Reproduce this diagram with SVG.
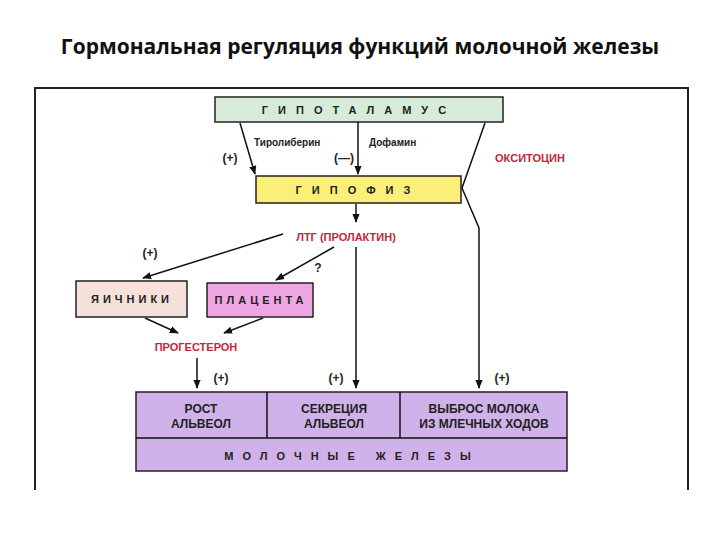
<svg xmlns="http://www.w3.org/2000/svg" width="720" height="540" viewBox="0 0 720 540">
<defs>
<marker id="ah" viewBox="0 0 10 10" refX="9" refY="5" markerWidth="6" markerHeight="6" orient="auto"><path d="M0,1 L10,5 L0,9 z" fill="#111"/></marker>
<style>
.box{stroke:#222;stroke-width:1.5}
.sp{font-family:"Liberation Sans",Arial,sans-serif;font-weight:bold;font-size:11px;fill:#222;text-anchor:middle}
.red{font-family:"Liberation Sans",Arial,sans-serif;font-weight:bold;font-size:11px;fill:#c0283a;text-anchor:middle}
.sm{font-family:"Liberation Sans",Arial,sans-serif;font-weight:bold;font-size:10px;fill:#222}
.in{font-family:"Liberation Sans",Arial,sans-serif;font-weight:bold;font-size:12px;fill:#222;text-anchor:middle}
.ln{stroke:#111;stroke-width:1.5;fill:none}
</style>
</defs>
<rect width="720" height="540" fill="#fff"/>
<text x="360" y="54" text-anchor="middle" font-family="'Open Sans','Liberation Sans',sans-serif" font-weight="bold" font-size="21" fill="#111">Гормональная регуляция функций молочной железы</text>
<path d="M35,490 V88 H688 V490" stroke="#222" stroke-width="2" fill="none"/>
<g id="hypothalamus"><rect class="box" x="215" y="97" width="288" height="25" fill="#d6ecd9"/><text class="sp" x="359" y="114" letter-spacing="10">ГИПОТАЛАМУС</text></g>
<g id="hypophysis"><rect class="box" x="256" y="176" width="205" height="27" fill="#fbef7a"/><text class="sp" x="358" y="194" letter-spacing="10">ГИПОФИЗ</text></g>
<g id="ovaries"><rect class="box" x="76" y="281" width="111" height="36" fill="#f5e1da"/><text class="sp" x="132" y="303" letter-spacing="4">ЯИЧНИКИ</text></g>
<g id="placenta"><rect class="box" x="207" y="283" width="106" height="34" fill="#f0a6e2"/><text class="sp" x="261" y="304" letter-spacing="4">ПЛАЦЕНТА</text></g>
<g id="glands">
<rect class="box" x="136" y="392" width="431" height="79" fill="#cfb2ea"/>
<path class="ln" d="M136,438 H567 M267,392 V438 M400,392 V438"/>
<text class="in" x="201" y="413">РОСТ</text><text class="in" x="201" y="428">АЛЬВЕОЛ</text>
<text class="in" x="334" y="413">СЕКРЕЦИЯ</text><text class="in" x="334" y="428">АЛЬВЕОЛ</text>
<text class="in" x="484" y="413">ВЫБРОС МОЛОКА</text><text class="in" x="484" y="428">ИЗ МЛЕЧНЫХ ХОДОВ</text>
<text class="sp" x="352" y="460" letter-spacing="9">МОЛОЧНЫЕ  ЖЕЛЕЗЫ</text>
</g>
<g id="connectors">
<path class="ln" d="M240,123 L255,174" marker-end="url(#ah)"/>
<path class="ln" d="M358,122 V174" marker-end="url(#ah)"/>
<path class="ln" d="M485,123 L462,188 L479,228 V388" marker-end="url(#ah)"/>
<path class="ln" d="M356,204 V222" marker-end="url(#ah)"/>
<path class="ln" d="M356,247 V388" marker-end="url(#ah)"/>
<path class="ln" d="M283,234 L143,278" marker-end="url(#ah)"/>
<path class="ln" d="M334,247 L276,280" marker-end="url(#ah)"/>
<path class="ln" d="M145,318 L178,333" marker-end="url(#ah)"/>
<path class="ln" d="M263,318 L224,333" marker-end="url(#ah)"/>
<path class="ln" d="M197,358 V388" marker-end="url(#ah)"/>
</g>
<g id="labels">
<text class="sm" x="254" y="146">Тиролиберин</text>
<text class="sm" x="369" y="146">Дофамин</text>
<text class="in" x="230" y="162" font-weight="normal">(+)</text>
<text class="in" x="344" y="162" font-weight="normal">(—)</text>
<text class="red" x="530" y="162">ОКСИТОЦИН</text>
<text class="red" x="346" y="241">ЛТГ  (ПРОЛАКТИН)</text>
<text class="in" x="150" y="257" font-weight="normal">(+)</text>
<text class="in" x="318" y="272" font-weight="normal">?</text>
<text class="red" x="196" y="351">ПРОГЕСТЕРОН</text>
<text class="in" x="221" y="382" font-weight="normal">(+)</text>
<text class="in" x="336" y="382" font-weight="normal">(+)</text>
<text class="in" x="502" y="382" font-weight="normal">(+)</text>
</g>
</svg>
